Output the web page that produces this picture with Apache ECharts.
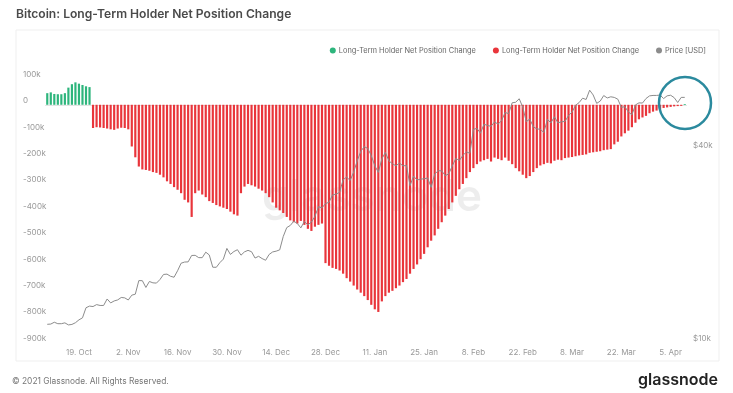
<!DOCTYPE html>
<html><head><meta charset="utf-8">
<script src="https://cdn.jsdelivr.net/npm/echarts@6/dist/echarts.min.js"></script>
<style>html,body{margin:0;padding:0;background:#fff}#c{width:733px;height:393px}</style>
</head><body><div id="c"></div>
<script>
// ---- data ----
const startDate = '2020-10-10';
const dayCount = 182;
const xTickLabels = ['19. Oct','2. Nov','16. Nov','30. Nov','14. Dec','28. Dec','11. Jan','25. Jan','8. Feb','22. Feb','8. Mar','22. Mar','5. Apr'];
const yTickValues = [100000,0,-100000,-200000,-300000,-400000,-500000,-600000,-700000,-800000,-900000];
const priceTickValues = [10000, 40000];

const netChange = [
 44000,47000,41000,40000,40000,44000,65000,78000,85000,80000,75000,70000,67000,
 -88000,-85000,-86000,-88000,-90000,-93000,-95000,-90000,-87000,-88000,-93000,
 -158000,-199000,-234000,-245000,-247000,-250000,-255000,-258000,-265000,-275000,
 -290000,-300000,-312000,-322000,-335000,-360000,-370000,-425000,-335000,-325000,
 -340000,-350000,-365000,-372000,-380000,-385000,-390000,-395000,-405000,-415000,
 -420000,-335000,-310000,-300000,-305000,-310000,-318000,-325000,-335000,-350000,
 -370000,-390000,-400000,-410000,-425000,-438000,-445000,-450000,-440000,-455000,
 -470000,-478000,-462000,-455000,-450000,-600000,-610000,-618000,-622000,-628000,
 -640000,-657000,-670000,-685000,-700000,-712000,-725000,-740000,-758000,-775000,
 -785000,-745000,-725000,-712000,-705000,-695000,-685000,-672000,-660000,-640000,
 -622000,-605000,-585000,-565000,-540000,-515000,-495000,-470000,-445000,-420000,
 -395000,-370000,-345000,-320000,-300000,-278000,-255000,-240000,-225000,-215000,
 -210000,-205000,-215000,-200000,-205000,-210000,-200000,-212000,-225000,-240000,
 -252000,-265000,-278000,-270000,-255000,-240000,-230000,-225000,-220000,-222000,
 -212000,-208000,-210000,-202000,-200000,-198000,-195000,-192000,-190000,-188000,
 -182000,-180000,-178000,-176000,-172000,-170000,-168000,-150000,-140000,-120000,
 -108000,-98000,-85000,-68000,-55000,-48000,-42000,-32000,-26000,-22000,
 -18000,-12000,-10000,-8000,-6000,-5000,-4000,3000
];

const price = [
 11380,11400,11550,11430,11430,11500,11330,11370,11510,11750,11920,12820,12970,12930,13110,13030,13030,13650,13270,13460,13560,13800,
 13760,13550,14030,14130,15580,15570,14830,15480,15330,15300,15700,16280,16320,16070,15960,16720,17650,17800,17820,18660,18680,18370,18370,19110,18730,17150,17140,17720,18180,19630,
 18800,19200,19450,18700,19150,19360,19170,18320,18550,18250,18030,18800,19140,19250,19430,21380,22800,23150,23870,23480,22750,23820,23240,23730,24710,26490,26280,27080,27360,28840,29000,
 29370,32130,32780,31970,33990,36820,39370,40800,40250,38240,35540,33910,37340,39150,36830,36070,35540,36230,35540,35600,30820,33000,32090,32290,32370,32570,30430,33470,34320,34270,33110,
 33540,35510,37470,36930,38290,39260,38900,46200,46480,44920,47910,47500,47180,48720,47940,49160,52150,51680,55890,56100,57540,54210,48820,49710,47060,46340,46190,45140,
 49630,48380,50540,48370,48760,48880,51000,52250,54880,55960,57750,57230,61190,59120,55660,56570,58870,57860,58350,58090,57350,54090,54340,52300,51290,55030,55860,55780,57630,58730,58920,
 58920,59100,57600,58760,59000,58000,56000,58100,58100
];

// ---- build ----
const MONTHS = ['Jan','Feb','Mar','Apr','May','Jun','Jul','Aug','Sep','Oct','Nov','Dec'];
const categories = [];
const t0 = Date.parse(startDate + 'T00:00:00Z');
for (let i = 0; i < dayCount; i++) {
  const d = new Date(t0 + i * 86400000);
  categories.push(d.getUTCDate() + '. ' + MONTHS[d.getUTCMonth()]);
}
const tickSet = new Set(xTickLabels);
const LTH = 'Long-Term Holder Net Position Change';
const LTH_NEG = 'Long-Term Holder Net Position Change (negative)';
const FONT = 'Inter, "Noto Sans", sans-serif';

const chart = echarts.init(document.getElementById('c'), null, {renderer: 'canvas'});
chart.setOption({
  animation: false,
  backgroundColor: '#ffffff',
  title: {
    text: 'Bitcoin: Long-Term Holder Net Position Change',
    left: 11, top: 3,
    textStyle: {fontFamily: FONT, fontSize: 12.1, fontWeight: 600, color: '#4a4a4a'}
  },
  legend: {
    right: 22, top: 42,
    icon: 'circle', itemWidth: 6, itemHeight: 6, itemGap: 17,
    data: [LTH, LTH_NEG, 'Price [USD]'],
    formatter: n => (n === LTH_NEG ? LTH : n),
    textStyle: {fontFamily: FONT, fontSize: 7.4, color: '#666', padding: [0,0,0,-2]}
  },
  grid: {left: 45.5, right: 46.5, top: 52, bottom: 50.7},
  xAxis: {
    type: 'category', data: categories, boundaryGap: true,
    axisLine: {lineStyle: {color: '#e3e3e3'}},
    axisTick: {show: false},
    axisLabel: {
      interval: (idx, val) => tickSet.has(val),
      fontFamily: FONT, fontSize: 8, color: '#999', margin: 6
    },
    splitLine: {show: false}
  },
  yAxis: [{
    type: 'value', min: -900000, max: 200000, interval: 100000,
    axisLine: {show: false}, axisTick: {show: false}, splitLine: {show: false},
    axisLabel: {
      customValues: yTickValues,
      formatter: v => (v === 0 ? '0' : (v / 1000) + 'k'),
      align: 'left', margin: 22.5, verticalAlign: 'bottom', lineHeight: 8,
      fontFamily: FONT, fontSize: 8, color: '#999'
    }
  }, {
    type: 'log', logBase: 10, min: 10000, max: 80500, position: 'right',
    axisLine: {show: false}, axisTick: {show: false}, splitLine: {show: false},
    axisLabel: {
      customValues: priceTickValues,
      formatter: v => '$' + Math.round(v / 1000) + 'k',
      align: 'left', margin: 6.5, verticalAlign: 'bottom', lineHeight: 8,
      fontFamily: FONT, fontSize: 8, color: '#999'
    }
  }],
  series: [{
    name: LTH, type: 'bar', yAxisIndex: 0,
    data: netChange.map(v => (v > 0 ? v : '-')),
    itemStyle: {color: '#2db57c'}, barWidth: '62%', barGap: '-100%'
  }, {
    name: LTH_NEG, type: 'bar', yAxisIndex: 0,
    data: netChange.map(v => (v < 0 ? v : '-')),
    itemStyle: {color: '#e9353b'}, barWidth: '62%', barGap: '-100%'
  }, {
    name: 'Price [USD]', type: 'line', yAxisIndex: 1, data: price,
    showSymbol: false, symbol: 'circle',
    lineStyle: {color: '#8c8c8c', width: 1}, itemStyle: {color: '#8c8c8c'}, z: 5
  }],
  graphic: [
    {type: 'rect', z: -10, shape: {x: 16, y: 30, width: 703, height: 331},
     style: {fill: 'none', stroke: '#efefef', lineWidth: 1}},
    {type: 'text', z: -5, style: {text: 'glassnode', x: 372, y: 198, align: 'center', verticalAlign: 'middle',
      font: '600 44px Inter, sans-serif', fill: 'rgba(0,0,0,0.07)'}},
    {type: 'circle', z: 100, shape: {cx: 685, cy: 103, r: 26},
     style: {fill: 'none', stroke: '#2b8a9e', lineWidth: 2.5}},
    {type: 'text', style: {text: '© 2021 Glassnode. All Rights Reserved.', x: 12, y: 381, verticalAlign: 'middle',
      font: '8.4px Inter, sans-serif', fill: '#777'}},
    {type: 'text', style: {text: 'glassnode', x: 718, y: 380, align: 'right', verticalAlign: 'middle',
      font: '600 16px Inter, sans-serif', fill: '#222'}}
  ]
});
</script>
</body></html>
